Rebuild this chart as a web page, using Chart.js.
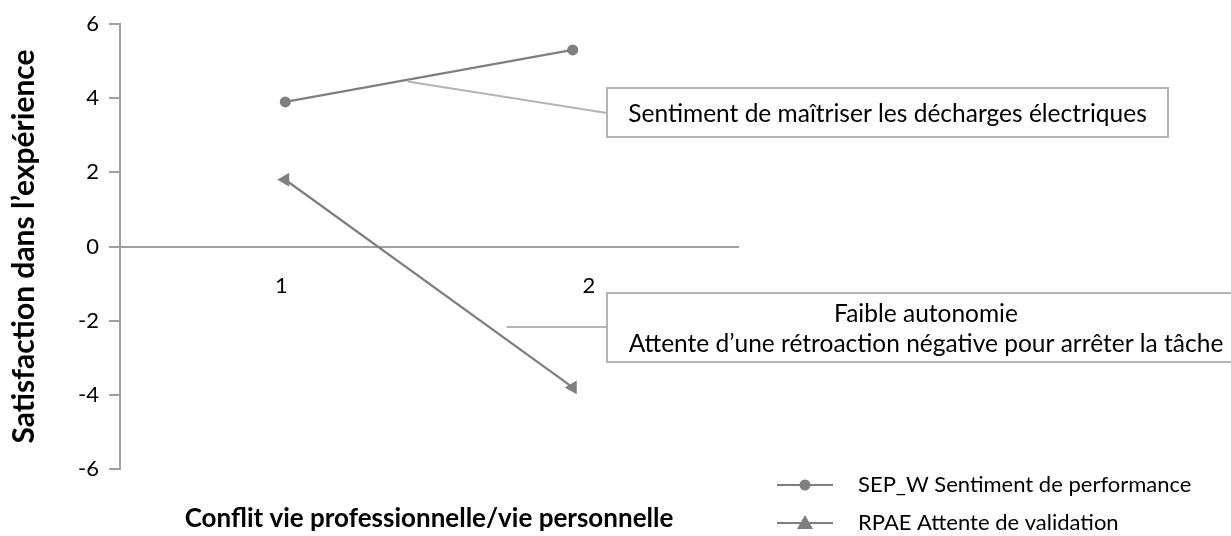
<!DOCTYPE html>
<html>
<head>
<meta charset="utf-8">
<script src="https://cdn.jsdelivr.net/npm/chart.js@4.4.0/dist/chart.umd.min.js"></script>
<style>
  html, body { margin: 0; padding: 0; background: #fff; }
  #wrap { width: 1231px; height: 536px; }
</style>
</head>
<body>
<div id="wrap"><canvas id="chart"></canvas></div>
<script>
// data
const categories = [1, 2];
const categoryLabels = ['1', '2'];
const yTicks = [-6, -4, -2, 0, 2, 4, 6];
const sepValues = [3.9, 5.3];
const rpaeValues = [1.8, -3.8];
const seriesNames = ['SEP_W Sentiment de performance', 'RPAE Attente de validation'];
const noteTexts = [
  ['Sentiment de maîtriser les décharges électriques'],
  ['Faible autonomie', 'Attente d’une rétroaction négative pour arrêter la tâche']
];
// where each callout line touches the plot (data units)
const noteAnchors = [[1.425, 4.45], [1.77, -2.17]];

const GREY = '#7f7f7f';
const AXIS = '#a0a0a0';
const FONT = 'Lato, "Open Sans", sans-serif';

// callout boxes, pixel layout
const noteBoxes = [
  { left: 607, top: 88, right: 1168, bottom: 137, joinY: 113 },
  { left: 607, top: 293, right: 1245, bottom: 362, joinY: 327 }
];

const notesPlugin = {
  id: 'notes',
  afterDatasetsDraw(chart) {
    const { ctx, scales: { x, y } } = chart;
    ctx.save();
    noteBoxes.forEach((b, i) => {
      const ax = x.getPixelForValue(noteAnchors[i][0]);
      const ay = y.getPixelForValue(noteAnchors[i][1]);
      ctx.strokeStyle = '#b4b4b4';
      ctx.lineWidth = 2;
      ctx.beginPath();
      ctx.moveTo(ax, ay);
      ctx.lineTo(b.left, b.joinY);
      ctx.stroke();
      ctx.fillStyle = '#fff';
      ctx.fillRect(b.left, b.top, b.right - b.left, b.bottom - b.top);
      ctx.strokeRect(b.left, b.top, b.right - b.left, b.bottom - b.top);
      ctx.fillStyle = '#000';
      ctx.font = '24.5px ' + FONT;
      ctx.textAlign = 'center';
      ctx.textBaseline = 'middle';
      const lines = noteTexts[i];
      const lh = 30;
      const cy = (b.top + b.bottom) / 2 + 2 - (lines.length - 1) * lh / 2;
      lines.forEach((t, k) => ctx.fillText(t, (b.left + b.right) / 2, cy + k * lh));
    });
    ctx.restore();
  }
};

// Excel-style legend: short line with the marker in the middle
const legendPlugin = {
  id: 'xlLegend',
  afterDraw(chart) {
    const { ctx } = chart;
    ctx.save();
    chart.data.datasets.forEach((ds, i) => {
      const y0 = 485 + i * 38;
      ctx.strokeStyle = ds.borderColor;
      ctx.lineWidth = 2;
      ctx.beginPath();
      ctx.moveTo(777, y0);
      ctx.lineTo(833, y0);
      ctx.stroke();
      ctx.fillStyle = ds.borderColor;
      ctx.beginPath();
      if (ds.pointStyle === 'circle') {
        ctx.arc(805, y0, 5.5, 0, Math.PI * 2);
      } else {
        ctx.moveTo(805, y0 - 8);
        ctx.lineTo(813, y0 + 6);
        ctx.lineTo(797, y0 + 6);
        ctx.closePath();
      }
      ctx.fill();
      ctx.fillStyle = '#000';
      ctx.font = '22px ' + FONT;
      ctx.textAlign = 'left';
      ctx.textBaseline = 'middle';
      ctx.fillText(ds.label, 858, y0);
    });
    ctx.restore();
  }
};

const tickFont = { family: FONT, size: 22 };

new Chart(document.getElementById('chart'), {
  type: 'line',
  data: {
    datasets: [
      {
        label: seriesNames[0],
        data: categories.map((c, i) => ({ x: c, y: sepValues[i] })),
        borderColor: GREY,
        backgroundColor: GREY,
        borderWidth: 2.25,
        pointStyle: 'circle',
        pointRadius: 5.5,
        pointBorderWidth: 0
      },
      {
        label: seriesNames[1],
        data: categories.map((c, i) => ({ x: c, y: rpaeValues[i] })),
        borderColor: GREY,
        backgroundColor: GREY,
        borderWidth: 2.25,
        pointStyle: 'triangle',
        pointRadius: 8,
        pointRotation: -90,
        pointBorderWidth: 0
      }
    ]
  },
  options: {
    responsive: true,
    maintainAspectRatio: false,
    animation: false,
    layout: { padding: { top: 24, right: 493, left: 0, bottom: 0 } },
    plugins: {
      legend: { display: false },
      tooltip: { enabled: false }
    },
    scales: {
      x: {
        type: 'linear',
        position: 'bottom',
        min: 0.425,
        max: 2.575,
        ticks: { display: false },
        grid: { display: false, drawTicks: false },
        border: { display: false },
        title: {
          display: true,
          text: 'Conflit vie professionnelle/vie personnelle',
          color: '#000',
          font: { family: FONT, size: 26, weight: 'bold' },
          padding: { top: 0, bottom: 2 }
        },
        afterFit(scale) { scale.height = 67; }
      },
      xt: {
        type: 'linear',
        axis: 'x',
        position: { y: 0 },
        min: 0.475,
        max: 2.485,
        afterBuildTicks(scale) { scale.ticks = categories.map(v => ({ value: v })); },
        ticks: {
          color: '#000',
          font: tickFont,
          padding: 26,
          maxRotation: 0,
          callback: v => categoryLabels[categories.indexOf(v)]
        },
        grid: { display: false, drawTicks: false },
        border: { display: true, color: AXIS, width: 2 }
      },
      y: {
        min: -6,
        max: 6,
        afterBuildTicks(scale) { scale.ticks = yTicks.map(v => ({ value: v })); },
        ticks: { color: '#000', font: tickFont, padding: 10 },
        grid: { drawOnChartArea: false, tickLength: 11, color: AXIS, lineWidth: 2 },
        border: { color: AXIS, width: 2 },
        title: {
          display: true,
          text: 'Satisfaction dans l’expérience',
          color: '#000',
          font: { family: FONT, size: 30, weight: 'bold' },
          padding: { top: 6, bottom: 0 }
        },
        afterFit(scale) { scale.width = 120; }
      }
    }
  },
  plugins: [notesPlugin, legendPlugin]
});
</script>
</body>
</html>
